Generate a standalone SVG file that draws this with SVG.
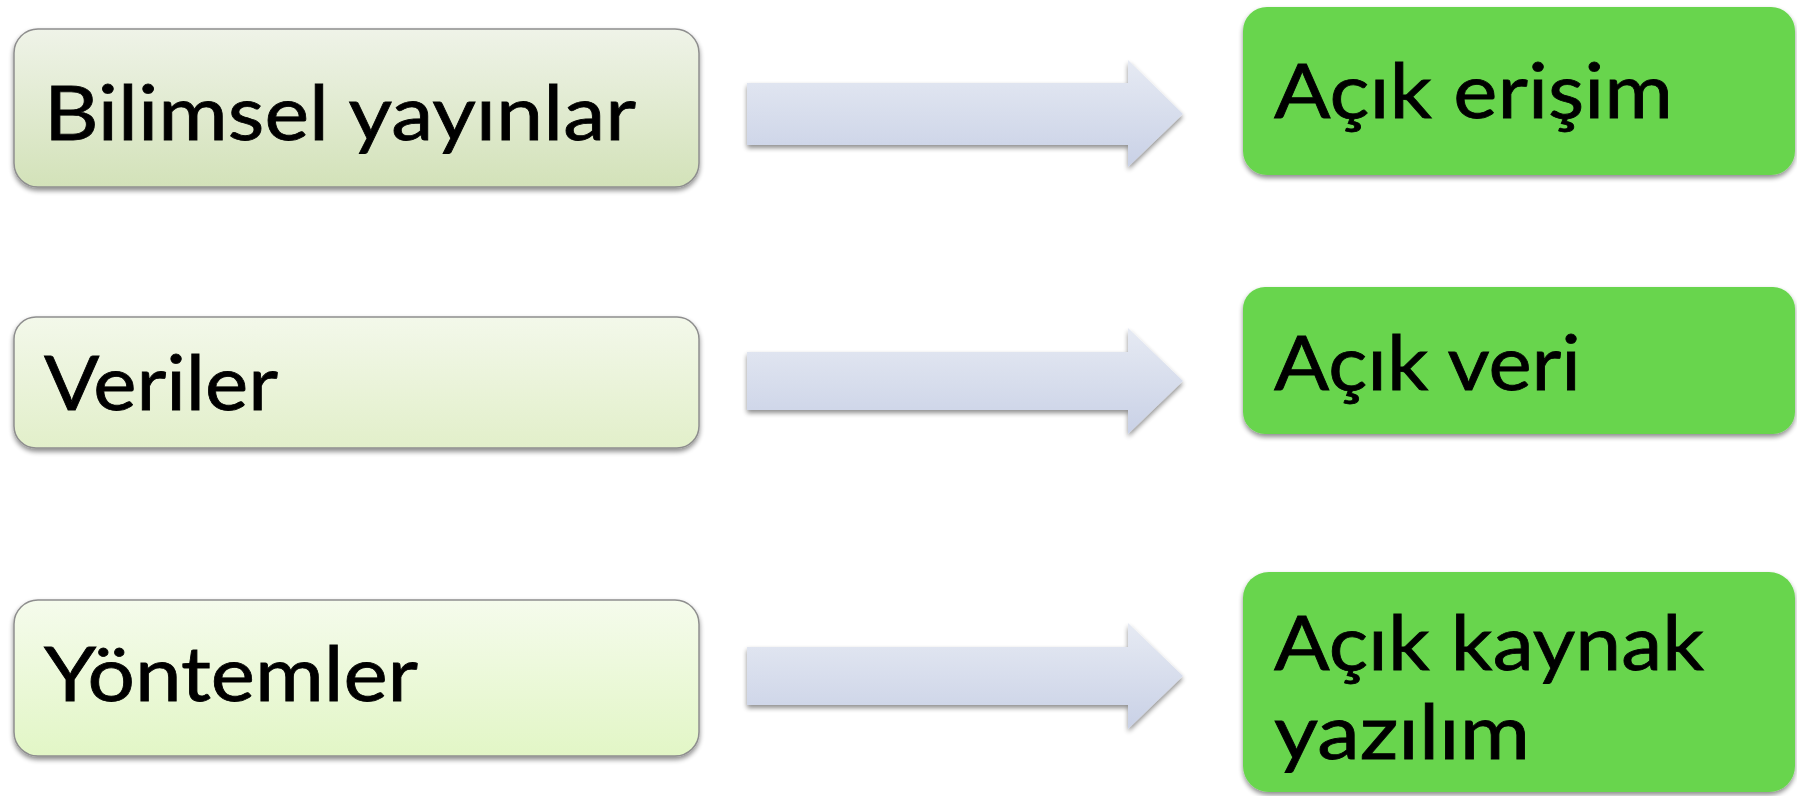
<svg xmlns="http://www.w3.org/2000/svg" width="1797" height="796" viewBox="0 0 1797 796">
<defs>
<linearGradient id="g1" x1="0" y1="0" x2="0" y2="1"><stop offset="0" stop-color="#eff3e8"/><stop offset="1" stop-color="#d3e2b9"/></linearGradient>
<linearGradient id="g2" x1="0" y1="0" x2="0" y2="1"><stop offset="0" stop-color="#f3f8ea"/><stop offset="1" stop-color="#e2efca"/></linearGradient>
<linearGradient id="g3" x1="0" y1="0" x2="0" y2="1"><stop offset="0" stop-color="#f5fbec"/><stop offset="1" stop-color="#e2f6c6"/></linearGradient>
<linearGradient id="ga" x1="0" y1="0" x2="0" y2="1"><stop offset="0" stop-color="#e6eaf3"/><stop offset="1" stop-color="#c9d1e6"/></linearGradient>
<filter id="sh" x="-5%" y="-10%" width="110%" height="130%"><feGaussianBlur in="SourceAlpha" stdDeviation="2.5"/><feOffset dy="3" result="b"/><feComponentTransfer><feFuncA type="linear" slope="0.45"/></feComponentTransfer><feMerge><feMergeNode/><feMergeNode in="SourceGraphic"/></feMerge></filter>
</defs>
<style>
.src{stroke:#8e8e8e;stroke-width:1.5;filter:url(#sh)}
.dst{fill:#68d54d;filter:url(#sh)}
.arr{fill:url(#ga);filter:url(#sh)}
text{font-family:Lato,"Open Sans","Liberation Sans",sans-serif;font-size:76px;fill:#000;stroke:#000;stroke-width:0.8}
</style>
<rect width="1797" height="796" fill="#ffffff"/>
<g id="n1"><rect class="src" x="14" y="29" width="685" height="158" rx="24" fill="url(#g1)"/><text x="44" y="140" textLength="592" lengthAdjust="spacingAndGlyphs">Bilimsel yayınlar</text></g>
<g id="n2"><rect class="src" x="14" y="317" width="685" height="131" rx="22" fill="url(#g2)"/><text x="44" y="410" textLength="234" lengthAdjust="spacingAndGlyphs">Veriler</text></g>
<g id="n3"><rect class="src" x="14" y="600" width="685" height="156" rx="24" fill="url(#g3)"/><text x="44" y="701" textLength="374" lengthAdjust="spacingAndGlyphs">Yöntemler</text></g>
<g id="n4"><rect class="dst" x="1243" y="7" width="552" height="168" rx="24"/><text x="1274" y="118" textLength="399" lengthAdjust="spacingAndGlyphs">Açık erişim</text></g>
<g id="n5"><rect class="dst" x="1243" y="287" width="552" height="147" rx="22"/><text x="1274" y="390" textLength="307" lengthAdjust="spacingAndGlyphs">Açık veri</text></g>
<g id="n6"><rect class="dst" x="1243" y="572" width="552" height="220" rx="26"/><text x="1274" y="670" textLength="430" lengthAdjust="spacingAndGlyphs">Açık kaynak</text><text x="1274" y="759" textLength="256" lengthAdjust="spacingAndGlyphs">yazılım</text></g>
<g id="connectors">
<path class="arr" d="M747 83 H1128 V60 L1183 114 L1128 167 V145 H747 Z"/>
<path class="arr" d="M747 352 H1128 V328 L1183 381 L1128 434 V410 H747 Z"/>
<path class="arr" d="M747 647 H1128 V623 L1183 676 L1128 729 V705 H747 Z"/>
</g>
</svg>
